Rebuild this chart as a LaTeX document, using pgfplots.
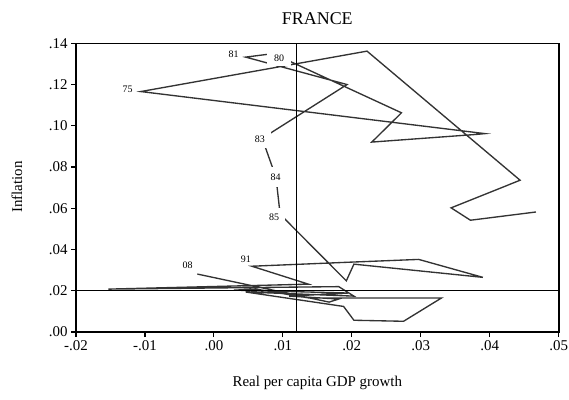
\documentclass[border=0pt]{standalone}
\usepackage{fontspec}
\setmainfont{Liberation Serif}
\usepackage{pgfplots}
\usepackage{pgfplotstable}
\pgfplotsset{compat=1.18}
\pgfplotstableread{
x y
0.0467 0.0582
0.0372 0.0542
0.0344 0.0602
0.0444 0.0736
0.0222 0.1362
-0.0106 0.1166
0.0393 0.0962
0.0380 0.0958
0.0229 0.0921
0.0272 0.1063
0.0086 0.1350
0.0046 0.1333
0.0193 0.1200
0.0070 0.0939
0.0090 0.0750
0.0096 0.0571
0.0192 0.0248
0.0203 0.0329
0.0390 0.0265
0.0297 0.0352
0.0200 0.0339
0.0055 0.0319
0.0137 0.0232
-0.0153 0.0208
0.0181 0.0220
0.0203 0.0174
0.0046 0.0194
0.0188 0.0124
0.0203 0.0057
0.0275 0.0052
0.0330 0.0165
0.0138 0.0165
0.0061 0.0208
0.0029 0.0203
0.0195 0.0189
0.0109 0.0174
0.0181 0.0160
0.0167 0.0145
-0.0024 0.0281
}\france
\begin{document}
\begin{tikzpicture}[x=1bp,y=1bp]
\path[use as bounding box] (0,0) rectangle (569,399);
\begin{axis}[
  at={(76bp,67bp)}, anchor=south west,
  width=482.7bp, height=288.7bp, scale only axis,
  xmin=-0.02, xmax=0.05, ymin=0, ymax=0.14,
  scaled x ticks=false, scaled y ticks=false,
  xtick={-0.02,-0.01,0,0.01,0.02,0.03,0.04,0.05},
  xticklabels={-.02,-.01,.00,.01,.02,.03,.04,.05},
  ytick={0,0.02,0.04,0.06,0.08,0.10,0.12,0.14},
  yticklabels={.00,.02,.04,.06,.08,.10,.12,.14},
  tick align=outside, xtick pos=bottom, ytick pos=left,
  major tick length=5bp,
  tick style={black, line width=1.1pt},
  axis line style={black, line width=1.6pt},
  ticklabel style={font=\fontsize{15}{15}\selectfont},
  /pgf/number format/assume math mode=true,
]
\addplot[color=black!80, line width=1.35pt, mark=none] table {\france};
\draw[black, line width=1.4pt] (axis cs:0.012,0) -- (axis cs:0.012,0.14);
\draw[black, line width=1.4pt] (axis cs:-0.02,0.02) -- (axis cs:0.05,0.02);
\begin{scope}[every node/.style={fill=white, font=\fontsize{10}{10}\selectfont, inner sep=1.5bp}]
\node at (axis cs:-0.0125,0.1176) {75};
\node at (axis cs:0.00287,0.1346) {81};
\node[inner xsep=7bp, inner ysep=4bp] at (axis cs:0.00944,0.1328) {80};
\node[inner xsep=6bp, inner ysep=6bp] at (axis cs:0.00665,0.0937) {83};
\node[inner xsep=4bp, inner ysep=7bp] at (axis cs:0.00896,0.0752) {84};
\node[inner xsep=6bp, inner ysep=6bp] at (axis cs:0.00872,0.0558) {85};
\node at (axis cs:0.00463,0.0352) {91};
\node at (axis cs:-0.0038,0.0324) {08};
\end{scope}
\end{axis}
\node[font=\fontsize{18}{18}\selectfont] at (317.3,380) {FRANCE};
\node[rotate=90, font=\fontsize{15}{15}\selectfont] at (17,212) {Inflation};
\node[font=\fontsize{15}{15}\selectfont] at (317.3,16) {Real per capita GDP growth};
\end{tikzpicture}
\end{document}
